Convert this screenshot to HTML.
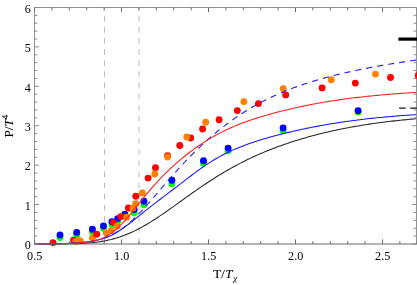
<!DOCTYPE html>
<html><head><meta charset="utf-8"><title>P/T4 vs T/Tχ</title>
<style>html,body{margin:0;padding:0;background:#fff}body{width:417px;height:285px;overflow:hidden}</style></head>
<body>
<div id="plot" style="will-change:transform;width:417px;height:285px">
<svg width="417" height="285" viewBox="0 0 417 285" style="display:block">
<rect width="417" height="285" fill="#fff"/>
<line x1="104.5" y1="7.5" x2="104.5" y2="244" stroke="#bcbcbc" stroke-width="1" stroke-dasharray="5.65 5.47" stroke-dashoffset="2.82"/>
<line x1="139.0" y1="7.5" x2="139.0" y2="244" stroke="#bcbcbc" stroke-width="1" stroke-dasharray="5.65 5.47" stroke-dashoffset="2.82"/>
<circle cx="60.0" cy="237.6" r="3.45" fill="#00ff00"/>
<circle cx="76.7" cy="234.9" r="3.45" fill="#00ff00"/>
<circle cx="92.4" cy="231.7" r="3.45" fill="#00ff00"/>
<circle cx="103.5" cy="228.3" r="3.45" fill="#00ff00"/>
<circle cx="112.0" cy="224.2" r="3.45" fill="#00ff00"/>
<circle cx="117.7" cy="221.0" r="3.45" fill="#00ff00"/>
<circle cx="124.8" cy="216.8" r="3.45" fill="#00ff00"/>
<circle cx="134.2" cy="212.9" r="3.45" fill="#00ff00"/>
<circle cx="143.9" cy="204.8" r="3.45" fill="#00ff00"/>
<circle cx="171.9" cy="183.8" r="3.45" fill="#00ff00"/>
<circle cx="203.5" cy="163.3" r="3.45" fill="#00ff00"/>
<circle cx="228.1" cy="150.8" r="3.45" fill="#00ff00"/>
<circle cx="283.1" cy="130.7" r="3.45" fill="#00ff00"/>
<circle cx="358.1" cy="111.9" r="3.45" fill="#00ff00"/>
<circle cx="60.0" cy="235.0" r="3.45" fill="#0000ff"/>
<circle cx="76.7" cy="232.4" r="3.45" fill="#0000ff"/>
<circle cx="92.4" cy="229.2" r="3.45" fill="#0000ff"/>
<circle cx="103.5" cy="226.0" r="3.45" fill="#0000ff"/>
<circle cx="112.0" cy="221.8" r="3.45" fill="#0000ff"/>
<circle cx="117.7" cy="218.6" r="3.45" fill="#0000ff"/>
<circle cx="124.8" cy="214.3" r="3.45" fill="#0000ff"/>
<circle cx="134.2" cy="209.6" r="3.45" fill="#0000ff"/>
<circle cx="143.9" cy="201.3" r="3.45" fill="#0000ff"/>
<circle cx="171.9" cy="180.2" r="3.45" fill="#0000ff"/>
<circle cx="203.5" cy="160.8" r="3.45" fill="#0000ff"/>
<circle cx="228.1" cy="148.1" r="3.45" fill="#0000ff"/>
<circle cx="283.1" cy="128.0" r="3.45" fill="#0000ff"/>
<circle cx="358.1" cy="110.7" r="3.45" fill="#0000ff"/>
<circle cx="92.5" cy="238.0" r="3.45" fill="#ff8000"/>
<circle cx="53.0" cy="242.6" r="3.45" fill="#ff0000"/>
<circle cx="73.6" cy="240.1" r="3.45" fill="#ff0000"/>
<circle cx="96.7" cy="234.3" r="3.45" fill="#ff0000"/>
<circle cx="113.4" cy="222.6" r="3.45" fill="#ff0000"/>
<circle cx="120.8" cy="216.6" r="3.45" fill="#ff0000"/>
<circle cx="128.4" cy="208.0" r="3.45" fill="#ff0000"/>
<circle cx="135.8" cy="196.2" r="3.45" fill="#ff0000"/>
<circle cx="148.1" cy="178.1" r="3.45" fill="#ff0000"/>
<circle cx="155.5" cy="167.8" r="3.45" fill="#ff0000"/>
<circle cx="167.6" cy="155.8" r="3.45" fill="#ff0000"/>
<circle cx="179.8" cy="145.5" r="3.45" fill="#ff0000"/>
<circle cx="190.7" cy="138.0" r="3.45" fill="#ff0000"/>
<circle cx="202.6" cy="129.0" r="3.45" fill="#ff0000"/>
<circle cx="219.1" cy="119.7" r="3.45" fill="#ff0000"/>
<circle cx="237.3" cy="110.6" r="3.45" fill="#ff0000"/>
<circle cx="258.4" cy="103.6" r="3.45" fill="#ff0000"/>
<circle cx="285.7" cy="94.9" r="3.45" fill="#ff0000"/>
<circle cx="322.1" cy="87.9" r="3.45" fill="#ff0000"/>
<circle cx="355.3" cy="83.1" r="3.45" fill="#ff0000"/>
<circle cx="390.5" cy="77.5" r="3.45" fill="#ff0000"/>
<circle cx="75.9" cy="241.4" r="3.45" fill="#ff8000"/>
<circle cx="80.1" cy="240.9" r="3.45" fill="#ff8000"/>
<circle cx="106.3" cy="233.1" r="3.45" fill="#ff8000"/>
<circle cx="111.3" cy="230.4" r="3.45" fill="#ff8000"/>
<circle cx="117.2" cy="226.1" r="3.45" fill="#ff8000"/>
<circle cx="126.6" cy="217.2" r="3.45" fill="#ff8000"/>
<circle cx="132.9" cy="208.2" r="3.45" fill="#ff8000"/>
<circle cx="135.7" cy="203.6" r="3.45" fill="#ff8000"/>
<circle cx="142.3" cy="193.0" r="3.45" fill="#ff8000"/>
<circle cx="154.8" cy="174.0" r="3.45" fill="#ff8000"/>
<circle cx="167.6" cy="157.0" r="3.45" fill="#ff8000"/>
<circle cx="186.8" cy="137.0" r="3.45" fill="#ff8000"/>
<circle cx="205.7" cy="122.2" r="3.45" fill="#ff8000"/>
<circle cx="243.9" cy="101.6" r="3.45" fill="#ff8000"/>
<circle cx="283.2" cy="88.6" r="3.45" fill="#ff8000"/>
<circle cx="331.3" cy="79.7" r="3.45" fill="#ff8000"/>
<circle cx="375.5" cy="74.1" r="3.45" fill="#ff8000"/>
<path d="M34.5,244.00 L36.4,244.00 L38.3,244.00 L40.3,244.00 L42.2,244.00 L44.1,244.00 L46.0,243.99 L48.0,243.99 L49.9,243.99 L51.8,243.98 L53.7,243.98 L55.7,243.97 L57.6,243.96 L59.5,243.95 L61.4,243.94 L63.4,243.92 L65.3,243.90 L67.2,243.87 L69.1,243.84 L71.1,243.81 L73.0,243.76 L74.9,243.71 L76.8,243.65 L78.8,243.58 L80.7,243.50 L82.6,243.40 L84.5,243.29 L86.5,243.16 L88.4,243.02 L90.3,242.85 L92.2,242.67 L94.2,242.47 L96.1,242.24 L98.0,241.98 L99.9,241.70 L101.9,241.39 L103.8,241.06 L105.7,240.69 L107.6,240.29 L109.6,239.85 L111.5,239.39 L113.4,238.88 L115.3,238.34 L117.3,237.77 L119.2,237.15 L121.1,236.50 L123.0,235.81 L125.0,235.08 L126.9,234.32 L128.8,233.52 L130.7,232.68 L132.7,231.80 L134.6,230.88 L136.5,229.93 L138.4,228.95 L140.4,227.93 L142.3,226.88 L144.2,225.80 L146.1,224.69 L148.1,223.54 L150.0,222.38 L151.9,221.18 L153.8,219.96 L155.8,218.72 L157.7,217.46 L159.6,216.18 L161.5,214.88 L163.4,213.56 L165.4,212.23 L167.3,210.89 L169.2,209.54 L171.1,208.18 L173.1,206.81 L175.0,205.43 L176.9,204.05 L178.8,202.67 L180.8,201.29 L182.7,199.91 L184.6,198.53 L186.5,197.15 L188.5,195.77 L190.4,194.40 L192.3,193.04 L194.2,191.69 L196.2,190.34 L198.1,189.00 L200.0,187.68 L201.9,186.36 L203.9,185.06 L205.8,183.76 L207.7,182.49 L209.6,181.22 L211.6,179.97 L213.5,178.74 L215.4,177.52 L217.3,176.31 L219.3,175.12 L221.2,173.95 L223.1,172.79 L225.0,171.66 L227.0,170.53 L228.9,169.43 L230.8,168.34 L232.7,167.27 L234.7,166.21 L236.6,165.17 L238.5,164.15 L240.4,163.15 L242.4,162.16 L244.3,161.19 L246.2,160.24 L248.1,159.30 L250.1,158.38 L252.0,157.48 L253.9,156.59 L255.8,155.71 L257.8,154.86 L259.7,154.01 L261.6,153.18 L263.5,152.37 L265.5,151.57 L267.4,150.78 L269.3,150.01 L271.2,149.25 L273.2,148.51 L275.1,147.78 L277.0,147.06 L278.9,146.35 L280.9,145.66 L282.8,144.97 L284.7,144.30 L286.6,143.64 L288.6,143.00 L290.5,142.36 L292.4,141.73 L294.3,141.12 L296.2,140.51 L298.2,139.92 L300.1,139.33 L302.0,138.76 L303.9,138.19 L305.9,137.64 L307.8,137.09 L309.7,136.56 L311.6,136.03 L313.6,135.51 L315.5,135.00 L317.4,134.50 L319.3,134.01 L321.3,133.53 L323.2,133.06 L325.1,132.60 L327.0,132.14 L329.0,131.70 L330.9,131.26 L332.8,130.83 L334.7,130.41 L336.7,130.00 L338.6,129.59 L340.5,129.20 L342.4,128.81 L344.4,128.43 L346.3,128.05 L348.2,127.69 L350.1,127.33 L352.1,126.98 L354.0,126.64 L355.9,126.30 L357.8,125.97 L359.8,125.65 L361.7,125.33 L363.6,125.02 L365.5,124.72 L367.5,124.43 L369.4,124.14 L371.3,123.85 L373.2,123.58 L375.2,123.31 L377.1,123.04 L379.0,122.78 L380.9,122.53 L382.9,122.28 L384.8,122.03 L386.7,121.80 L388.6,121.56 L390.6,121.34 L392.5,121.11 L394.4,120.89 L396.3,120.68 L398.3,120.47 L400.2,120.27 L402.1,120.07 L404.0,119.87 L406.0,119.68 L407.9,119.50 L409.8,119.31 L411.7,119.14 L413.7,118.96 L415.6,118.79 L417.5,118.62" fill="none" stroke="#222" stroke-width="1.05"/>
<path d="M34.5,243.97 L36.4,243.96 L38.3,243.95 L40.3,243.94 L42.2,243.93 L44.1,243.91 L46.0,243.89 L48.0,243.87 L49.9,243.85 L51.8,243.82 L53.7,243.78 L55.7,243.75 L57.6,243.70 L59.5,243.65 L61.4,243.60 L63.4,243.54 L65.3,243.47 L67.2,243.40 L69.1,243.31 L71.1,243.22 L73.0,243.12 L74.9,243.01 L76.8,242.88 L78.8,242.74 L80.7,242.59 L82.6,242.42 L84.5,242.22 L86.5,242.01 L88.4,241.77 L90.3,241.50 L92.2,241.19 L94.2,240.84 L96.1,240.45 L98.0,240.01 L99.9,239.52 L101.9,238.96 L103.8,238.34 L105.7,237.66 L107.6,236.90 L109.6,236.07 L111.5,235.16 L113.4,234.18 L115.3,233.13 L117.3,232.00 L119.2,230.81 L121.1,229.55 L123.0,228.23 L125.0,226.86 L126.9,225.44 L128.8,223.98 L130.7,222.49 L132.7,220.98 L134.6,219.44 L136.5,217.90 L138.4,216.35 L140.4,214.79 L142.3,213.25 L144.2,211.70 L146.1,210.17 L148.1,208.65 L150.0,207.13 L151.9,205.63 L153.8,204.14 L155.8,202.66 L157.7,201.19 L159.6,199.73 L161.5,198.26 L163.4,196.81 L165.4,195.35 L167.3,193.89 L169.2,192.42 L171.1,190.96 L173.1,189.49 L175.0,188.02 L176.9,186.54 L178.8,185.06 L180.8,183.58 L182.7,182.10 L184.6,180.62 L186.5,179.14 L188.5,177.67 L190.4,176.21 L192.3,174.76 L194.2,173.32 L196.2,171.90 L198.1,170.50 L200.0,169.12 L201.9,167.76 L203.9,166.43 L205.8,165.13 L207.7,163.86 L209.6,162.61 L211.6,161.40 L213.5,160.22 L215.4,159.07 L217.3,157.95 L219.3,156.87 L221.2,155.81 L223.1,154.79 L225.0,153.80 L227.0,152.84 L228.9,151.91 L230.8,151.01 L232.7,150.14 L234.7,149.29 L236.6,148.47 L238.5,147.67 L240.4,146.89 L242.4,146.14 L244.3,145.41 L246.2,144.69 L248.1,144.00 L250.1,143.32 L252.0,142.66 L253.9,142.02 L255.8,141.39 L257.8,140.78 L259.7,140.18 L261.6,139.59 L263.5,139.01 L265.5,138.44 L267.4,137.89 L269.3,137.34 L271.2,136.81 L273.2,136.28 L275.1,135.77 L277.0,135.26 L278.9,134.76 L280.9,134.27 L282.8,133.79 L284.7,133.31 L286.6,132.84 L288.6,132.38 L290.5,131.93 L292.4,131.48 L294.3,131.04 L296.2,130.60 L298.2,130.17 L300.1,129.75 L302.0,129.34 L303.9,128.93 L305.9,128.53 L307.8,128.13 L309.7,127.74 L311.6,127.36 L313.6,126.98 L315.5,126.61 L317.4,126.24 L319.3,125.88 L321.3,125.53 L323.2,125.18 L325.1,124.84 L327.0,124.50 L329.0,124.18 L330.9,123.85 L332.8,123.54 L334.7,123.23 L336.7,122.92 L338.6,122.62 L340.5,122.33 L342.4,122.04 L344.4,121.76 L346.3,121.48 L348.2,121.21 L350.1,120.95 L352.1,120.69 L354.0,120.44 L355.9,120.19 L357.8,119.94 L359.8,119.71 L361.7,119.47 L363.6,119.25 L365.5,119.02 L367.5,118.80 L369.4,118.59 L371.3,118.38 L373.2,118.18 L375.2,117.98 L377.1,117.78 L379.0,117.59 L380.9,117.40 L382.9,117.22 L384.8,117.04 L386.7,116.87 L388.6,116.70 L390.6,116.53 L392.5,116.36 L394.4,116.20 L396.3,116.05 L398.3,115.89 L400.2,115.74 L402.1,115.60 L404.0,115.46 L406.0,115.32 L407.9,115.18 L409.8,115.04 L411.7,114.91 L413.7,114.79 L415.6,114.66 L417.5,114.54" fill="none" stroke="#1414ff" stroke-width="1.05"/>
<path d="M34.5,243.94 L36.4,243.93 L38.3,243.92 L40.3,243.90 L42.2,243.89 L44.1,243.87 L46.0,243.85 L48.0,243.82 L49.9,243.79 L51.8,243.76 L53.7,243.73 L55.7,243.69 L57.6,243.65 L59.5,243.60 L61.4,243.55 L63.4,243.50 L65.3,243.43 L67.2,243.37 L69.1,243.29 L71.1,243.20 L73.0,243.11 L74.9,243.00 L76.8,242.88 L78.8,242.75 L80.7,242.60 L82.6,242.42 L84.5,242.23 L86.5,242.01 L88.4,241.76 L90.3,241.48 L92.2,241.16 L94.2,240.81 L96.1,240.40 L98.0,239.95 L99.9,239.44 L101.9,238.88 L103.8,238.25 L105.7,237.56 L107.6,236.80 L109.6,235.97 L111.5,235.06 L113.4,234.07 L115.3,233.00 L117.3,231.85 L119.2,230.62 L121.1,229.31 L123.0,227.92 L125.0,226.45 L126.9,224.90 L128.8,223.27 L130.7,221.58 L132.7,219.81 L134.6,217.98 L136.5,216.09 L138.4,214.15 L140.4,212.15 L142.3,210.10 L144.2,208.02 L146.1,205.90 L148.1,203.74 L150.0,201.57 L151.9,199.36 L153.8,197.15 L155.8,194.92 L157.7,192.68 L159.6,190.44 L161.5,188.19 L163.4,185.96 L165.4,183.72 L167.3,181.50 L169.2,179.29 L171.1,177.09 L173.1,174.91 L175.0,172.74 L176.9,170.60 L178.8,168.48 L180.8,166.38 L182.7,164.30 L184.6,162.25 L186.5,160.22 L188.5,158.22 L190.4,156.25 L192.3,154.30 L194.2,152.38 L196.2,150.49 L198.1,148.62 L200.0,146.79 L201.9,144.97 L203.9,143.19 L205.8,141.44 L207.7,139.71 L209.6,138.01 L211.6,136.34 L213.5,134.69 L215.4,133.07 L217.3,131.48 L219.3,129.92 L221.2,128.38 L223.1,126.87 L225.0,125.39 L227.0,123.94 L228.9,122.51 L230.8,121.10 L232.7,119.73 L234.7,118.37 L236.6,117.05 L238.5,115.75 L240.4,114.47 L242.4,113.22 L244.3,111.99 L246.2,110.79 L248.1,109.61 L250.1,108.46 L252.0,107.33 L253.9,106.22 L255.8,105.14 L257.8,104.07 L259.7,103.03 L261.6,102.01 L263.5,101.01 L265.5,100.04 L267.4,99.08 L269.3,98.14 L271.2,97.23 L273.2,96.33 L275.1,95.45 L277.0,94.59 L278.9,93.74 L280.9,92.92 L282.8,92.11 L284.7,91.31 L286.6,90.54 L288.6,89.78 L290.5,89.03 L292.4,88.30 L294.3,87.59 L296.2,86.89 L298.2,86.20 L300.1,85.52 L302.0,84.86 L303.9,84.22 L305.9,83.58 L307.8,82.96 L309.7,82.34 L311.6,81.74 L313.6,81.15 L315.5,80.58 L317.4,80.01 L319.3,79.45 L321.3,78.90 L323.2,78.36 L325.1,77.83 L327.0,77.31 L329.0,76.80 L330.9,76.30 L332.8,75.80 L334.7,75.32 L336.7,74.84 L338.6,74.37 L340.5,73.90 L342.4,73.45 L344.4,73.00 L346.3,72.55 L348.2,72.12 L350.1,71.69 L352.1,71.27 L354.0,70.85 L355.9,70.44 L357.8,70.04 L359.8,69.64 L361.7,69.25 L363.6,68.86 L365.5,68.48 L367.5,68.10 L369.4,67.73 L371.3,67.36 L373.2,67.00 L375.2,66.65 L377.1,66.29 L379.0,65.95 L380.9,65.61 L382.9,65.27 L384.8,64.94 L386.7,64.61 L388.6,64.28 L390.6,63.96 L392.5,63.65 L394.4,63.34 L396.3,63.03 L398.3,62.72 L400.2,62.42 L402.1,62.13 L404.0,61.84 L406.0,61.55 L407.9,61.26 L409.8,60.98 L411.7,60.70 L413.7,60.43 L415.6,60.16 L417.5,59.89" fill="none" stroke="#1e1eff" stroke-width="1.1" stroke-dasharray="6.15 4.97" stroke-dashoffset="9.94"/>
<path d="M34.5,243.97 L36.4,243.97 L38.3,243.96 L40.3,243.95 L42.2,243.94 L44.1,243.92 L46.0,243.91 L48.0,243.89 L49.9,243.87 L51.8,243.84 L53.7,243.81 L55.7,243.78 L57.6,243.75 L59.5,243.70 L61.4,243.66 L63.4,243.61 L65.3,243.55 L67.2,243.48 L69.1,243.41 L71.1,243.33 L73.0,243.24 L74.9,243.14 L76.8,243.02 L78.8,242.89 L80.7,242.74 L82.6,242.58 L84.5,242.38 L86.5,242.16 L88.4,241.90 L90.3,241.60 L92.2,241.25 L94.2,240.84 L96.1,240.37 L98.0,239.82 L99.9,239.18 L101.9,238.45 L103.8,237.62 L105.7,236.67 L107.6,235.61 L109.6,234.42 L111.5,233.11 L113.4,231.67 L115.3,230.11 L117.3,228.42 L119.2,226.61 L121.1,224.69 L123.0,222.67 L125.0,220.56 L126.9,218.36 L128.8,216.10 L130.7,213.78 L132.7,211.42 L134.6,209.03 L136.5,206.62 L138.4,204.21 L140.4,201.80 L142.3,199.40 L144.2,197.03 L146.1,194.68 L148.1,192.37 L150.0,190.09 L151.9,187.86 L153.8,185.67 L155.8,183.52 L157.7,181.42 L159.6,179.36 L161.5,177.35 L163.4,175.38 L165.4,173.45 L167.3,171.57 L169.2,169.72 L171.1,167.92 L173.1,166.15 L175.0,164.42 L176.9,162.72 L178.8,161.06 L180.8,159.43 L182.7,157.84 L184.6,156.27 L186.5,154.74 L188.5,153.24 L190.4,151.77 L192.3,150.34 L194.2,148.93 L196.2,147.55 L198.1,146.21 L200.0,144.89 L201.9,143.61 L203.9,142.35 L205.8,141.13 L207.7,139.93 L209.6,138.77 L211.6,137.63 L213.5,136.52 L215.4,135.45 L217.3,134.40 L219.3,133.37 L221.2,132.38 L223.1,131.41 L225.0,130.47 L227.0,129.55 L228.9,128.66 L230.8,127.79 L232.7,126.95 L234.7,126.13 L236.6,125.33 L238.5,124.55 L240.4,123.79 L242.4,123.05 L244.3,122.34 L246.2,121.64 L248.1,120.95 L250.1,120.29 L252.0,119.64 L253.9,119.00 L255.8,118.38 L257.8,117.77 L259.7,117.18 L261.6,116.59 L263.5,116.02 L265.5,115.46 L267.4,114.91 L269.3,114.37 L271.2,113.84 L273.2,113.32 L275.1,112.81 L277.0,112.30 L278.9,111.81 L280.9,111.32 L282.8,110.84 L284.7,110.36 L286.6,109.89 L288.6,109.43 L290.5,108.98 L292.4,108.53 L294.3,108.09 L296.2,107.66 L298.2,107.23 L300.1,106.81 L302.0,106.40 L303.9,105.99 L305.9,105.59 L307.8,105.20 L309.7,104.82 L311.6,104.44 L313.6,104.07 L315.5,103.71 L317.4,103.35 L319.3,103.00 L321.3,102.66 L323.2,102.32 L325.1,101.99 L327.0,101.67 L329.0,101.36 L330.9,101.05 L332.8,100.75 L334.7,100.45 L336.7,100.17 L338.6,99.88 L340.5,99.61 L342.4,99.34 L344.4,99.08 L346.3,98.82 L348.2,98.57 L350.1,98.32 L352.1,98.08 L354.0,97.84 L355.9,97.61 L357.8,97.39 L359.8,97.16 L361.7,96.95 L363.6,96.74 L365.5,96.53 L367.5,96.33 L369.4,96.13 L371.3,95.93 L373.2,95.74 L375.2,95.56 L377.1,95.38 L379.0,95.20 L380.9,95.02 L382.9,94.85 L384.8,94.68 L386.7,94.52 L388.6,94.36 L390.6,94.20 L392.5,94.05 L394.4,93.90 L396.3,93.75 L398.3,93.61 L400.2,93.47 L402.1,93.33 L404.0,93.19 L406.0,93.06 L407.9,92.93 L409.8,92.80 L411.7,92.68 L413.7,92.56 L415.6,92.44 L417.5,92.32" fill="none" stroke="#ff1a1a" stroke-width="1.05"/>
<g fill="none" stroke-width="1">
<path d="M34.5,244 V7.5 H416.5 V244" stroke="#929292"/>
<path d="M34,244 H417" stroke="#6a6a6a"/>
<path d="M34.50,244 v-4.6 M34.50,7.5 v4.6 M51.90,244 v-2.9 M51.90,7.5 v2.9 M69.30,244 v-2.9 M69.30,7.5 v2.9 M86.70,244 v-2.9 M86.70,7.5 v2.9 M104.10,244 v-2.9 M104.10,7.5 v2.9 M121.50,244 v-4.6 M121.50,7.5 v4.6 M138.90,244 v-2.9 M138.90,7.5 v2.9 M156.30,244 v-2.9 M156.30,7.5 v2.9 M173.70,244 v-2.9 M173.70,7.5 v2.9 M191.10,244 v-2.9 M191.10,7.5 v2.9 M208.50,244 v-4.6 M208.50,7.5 v4.6 M225.90,244 v-2.9 M225.90,7.5 v2.9 M243.30,244 v-2.9 M243.30,7.5 v2.9 M260.70,244 v-2.9 M260.70,7.5 v2.9 M278.10,244 v-2.9 M278.10,7.5 v2.9 M295.50,244 v-4.6 M295.50,7.5 v4.6 M312.90,244 v-2.9 M312.90,7.5 v2.9 M330.30,244 v-2.9 M330.30,7.5 v2.9 M347.70,244 v-2.9 M347.70,7.5 v2.9 M365.10,244 v-2.9 M365.10,7.5 v2.9 M382.50,244 v-4.6 M382.50,7.5 v4.6 M399.90,244 v-2.9 M399.90,7.5 v2.9 M417.30,244 v-2.9 M417.30,7.5 v2.9" stroke="#6c6c6c"/>
<path d="M34.5,244.00 h4.6 M416.5,244.00 h-4.6 M34.5,236.12 h2.9 M416.5,236.12 h-2.9 M34.5,228.23 h2.9 M416.5,228.23 h-2.9 M34.5,220.35 h2.9 M416.5,220.35 h-2.9 M34.5,212.46 h2.9 M416.5,212.46 h-2.9 M34.5,204.58 h4.6 M416.5,204.58 h-4.6 M34.5,196.70 h2.9 M416.5,196.70 h-2.9 M34.5,188.81 h2.9 M416.5,188.81 h-2.9 M34.5,180.93 h2.9 M416.5,180.93 h-2.9 M34.5,173.04 h2.9 M416.5,173.04 h-2.9 M34.5,165.16 h4.6 M416.5,165.16 h-4.6 M34.5,157.28 h2.9 M416.5,157.28 h-2.9 M34.5,149.39 h2.9 M416.5,149.39 h-2.9 M34.5,141.51 h2.9 M416.5,141.51 h-2.9 M34.5,133.62 h2.9 M416.5,133.62 h-2.9 M34.5,125.74 h4.6 M416.5,125.74 h-4.6 M34.5,117.86 h2.9 M416.5,117.86 h-2.9 M34.5,109.97 h2.9 M416.5,109.97 h-2.9 M34.5,102.09 h2.9 M416.5,102.09 h-2.9 M34.5,94.20 h2.9 M416.5,94.20 h-2.9 M34.5,86.32 h4.6 M416.5,86.32 h-4.6 M34.5,78.44 h2.9 M416.5,78.44 h-2.9 M34.5,70.55 h2.9 M416.5,70.55 h-2.9 M34.5,62.67 h2.9 M416.5,62.67 h-2.9 M34.5,54.78 h2.9 M416.5,54.78 h-2.9 M34.5,46.90 h4.6 M416.5,46.90 h-4.6 M34.5,39.02 h2.9 M416.5,39.02 h-2.9 M34.5,31.13 h2.9 M416.5,31.13 h-2.9 M34.5,23.25 h2.9 M416.5,23.25 h-2.9 M34.5,15.36 h2.9 M416.5,15.36 h-2.9 M34.5,7.48 h4.6 M416.5,7.48 h-4.6" stroke="#8c8c8c"/>
</g>
<circle cx="418.2" cy="75.4" r="3.45" fill="#ff0000"/>
<line x1="398.4" y1="39.1" x2="417" y2="39.1" stroke="#000" stroke-width="3.2"/>
<line x1="399.1" y1="108.05" x2="417" y2="108.05" stroke="#1a1a1a" stroke-width="1.25" stroke-dasharray="6.6 4.5"/>
<g font-family="'Liberation Serif', serif" font-size="13.5" fill="#000">
<text transform="translate(34.7,260.4) scale(0.9,1)" text-anchor="middle">0.5</text>
<text transform="translate(121.7,260.4) scale(0.9,1)" text-anchor="middle">1.0</text>
<text transform="translate(208.7,260.4) scale(0.9,1)" text-anchor="middle">1.5</text>
<text transform="translate(295.7,260.4) scale(0.9,1)" text-anchor="middle">2.0</text>
<text transform="translate(382.7,260.4) scale(0.9,1)" text-anchor="middle">2.5</text>
<text transform="translate(30.8,249.2) scale(0.9,1)" text-anchor="end">0</text>
<text transform="translate(30.8,209.8) scale(0.9,1)" text-anchor="end">1</text>
<text transform="translate(30.8,170.4) scale(0.9,1)" text-anchor="end">2</text>
<text transform="translate(30.8,130.9) scale(0.9,1)" text-anchor="end">3</text>
<text transform="translate(30.8,91.5) scale(0.9,1)" text-anchor="end">4</text>
<text transform="translate(30.8,52.1) scale(0.9,1)" text-anchor="end">5</text>
<text transform="translate(30.8,12.7) scale(0.9,1)" text-anchor="end">6</text>
</g>
<g font-family="'Liberation Serif', serif" font-size="13" fill="#000" stroke="#000" stroke-width="0.1">
<text x="213.2" y="278.4">T/<tspan font-style="italic" dx="0.4">T</tspan><tspan font-style="italic" font-size="9.2" dx="0.8" dy="2.9" stroke-width="0">χ</tspan></text>
<text transform="translate(13.3,137.4) rotate(-90)">P/<tspan font-style="italic">T</tspan><tspan font-size="9" dy="-5.3">4</tspan></text>
</g>
</svg>
</div>
</body></html>
